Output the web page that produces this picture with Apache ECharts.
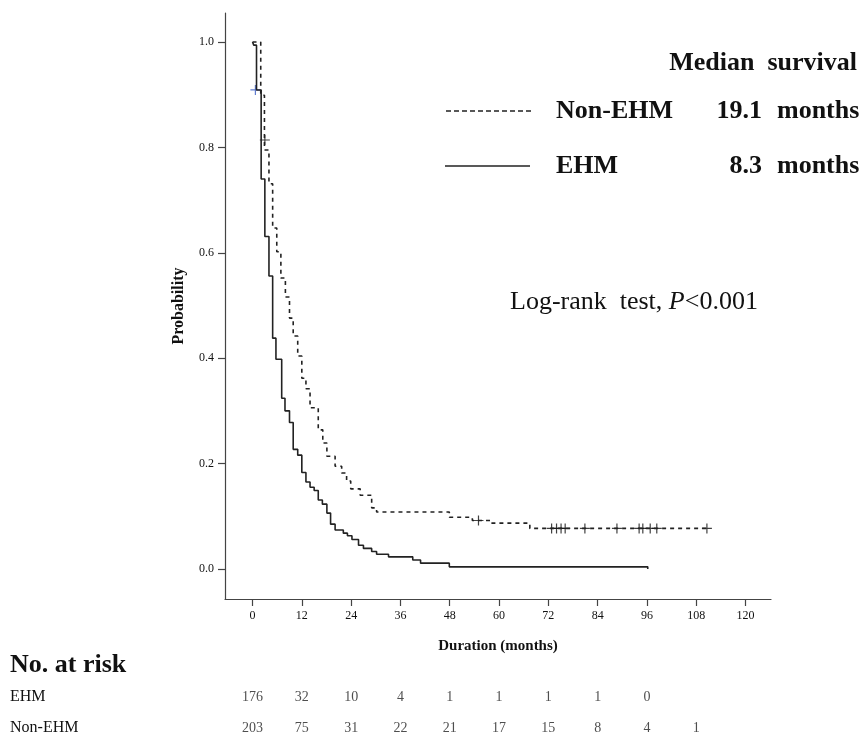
<!DOCTYPE html>
<html>
<head>
<meta charset="utf-8">
<script src="https://cdn.jsdelivr.net/npm/echarts@6/dist/echarts.min.js"></script>
<style>
html, body { margin: 0; padding: 0; background: #fff; }
#main { width: 868px; height: 747px; }
</style>
</head>
<body>
<div id="main"></div>
<script>
// Kaplan-Meier steps: [month, survival from that month on]
var ehmSteps = [
  [0, 1.0], [0.3, 0.994], [0.97, 0.909], [2.1, 0.740], [3.0, 0.631], [4.0, 0.556],
  [4.9, 0.438], [5.7, 0.398], [7.1, 0.324], [7.9, 0.300], [9.0, 0.278], [9.9, 0.227],
  [11.0, 0.216], [12.0, 0.183], [13.0, 0.165], [14.0, 0.155], [15.0, 0.149], [16.0, 0.131],
  [17.0, 0.123], [18.1, 0.106], [19.0, 0.085], [20.1, 0.074], [22.1, 0.068], [23.1, 0.063],
  [24.2, 0.056], [25.8, 0.045], [27.0, 0.039], [29.0, 0.033], [30.2, 0.028], [33.1, 0.023],
  [39.0, 0.017], [40.9, 0.011], [47.9, 0.004], [96.2, 0.0]
]
var nonEhmSteps = [
  [0, 1.0], [2.0, 0.899], [2.9, 0.795], [4.0, 0.731], [4.9, 0.647], [5.9, 0.602],
  [6.9, 0.552], [8.0, 0.516], [9.0, 0.476], [9.9, 0.442], [11.0, 0.404], [12.0, 0.362],
  [13.0, 0.342], [14.0, 0.306], [16.0, 0.264], [17.1, 0.239], [18.1, 0.214], [20.1, 0.195],
  [21.7, 0.182], [22.9, 0.167], [23.9, 0.152], [26.2, 0.140], [29.0, 0.116], [30.2, 0.108],
  [47.9, 0.098], [53.5, 0.092], [58.0, 0.087], [67.5, 0.077], [110.6, 0.077]
]
// censored observations (+ marks)
var ehmCensor = [[0.7, 0.909]]
var nonEhmCensor = [
  [3.0, 0.814], [55.0, 0.092], [72.8, 0.077], [74.0, 0.077], [75.1, 0.077], [76.1, 0.077],
  [80.9, 0.077], [88.7, 0.077], [94.1, 0.077], [95.0, 0.077], [96.8, 0.077], [98.4, 0.077],
  [110.6, 0.077]
]
var monthTicks = [0, 12, 24, 36, 48, 60, 72, 84, 96, 108, 120]
var probTicks = [0, 0.2, 0.4, 0.6, 0.8, 1.0]
// number at risk table
var riskMonths = [0, 12, 24, 36, 48, 60, 72, 84, 96, 108]
var riskRows = ['Non-EHM', 'EHM']
var ehmAtRisk = [176, 32, 10, 4, 1, 1, 1, 1, 0]
var nonEhmAtRisk = [203, 75, 31, 22, 21, 17, 15, 8, 4, 1]
// legend
var groupNames = ['Non-EHM', 'EHM']
var medianMonths = ['19.1', '8.3']

var serif = '"Liberation Serif", "Times New Roman", serif'
var plusPath = 'path://M-1.2,-10H1.2V-1.2H10V1.2H1.2V10H-1.2V1.2H-10V-1.2H-1.2Z'

function riskData(row, counts) {
  return counts.map(function(n, i) { return [riskMonths[i], row, n] })
}

var chart = echarts.init(document.getElementById('main'))

var option = {
  animation: false,
  backgroundColor: '#fff',
  grid: [
    { left: 225, top: 13, width: 546, height: 586 },
    { left: 225, top: 682, width: 546, height: 62 }
  ],
  xAxis: [
    {
      type: 'value',
      min: -6.7,
      max: 126.2,
      name: 'Duration (months)',
      nameLocation: 'middle',
      nameGap: 40,
      nameTextStyle: { fontFamily: serif, fontWeight: 'bold', fontSize: 15, color: '#111' },
      axisLine: { show: true, onZero: false, lineStyle: { color: '#444', width: 1.2 } },
      axisTick: { show: true, length: 7, customValues: monthTicks, lineStyle: { color: '#444', width: 1.2 } },
      axisLabel: { customValues: monthTicks, margin: 11, fontFamily: serif, fontSize: 12, color: '#111' },
      splitLine: { show: false }
    },
    { gridIndex: 1, type: 'value', min: -6.7, max: 126.2, show: false }
  ],
  yAxis: [
    {
      type: 'value',
      min: -0.057,
      max: 1.055,
      name: 'Probability',
      nameLocation: 'middle',
      nameGap: 38,
      nameTextStyle: { fontFamily: serif, fontWeight: 'bold', fontSize: 16, color: '#111' },
      axisLine: { show: true, onZero: false, lineStyle: { color: '#444', width: 1.2 } },
      axisTick: { show: true, length: 7, customValues: probTicks, lineStyle: { color: '#444', width: 1.2 } },
      axisLabel: {
        customValues: probTicks,
        margin: 11,
        fontFamily: serif,
        fontSize: 12,
        color: '#111',
        formatter: function(v) { return v.toFixed(1) }
      },
      splitLine: { show: false }
    },
    { gridIndex: 1, type: 'category', data: riskRows, show: false }
  ],
  series: [
    {
      name: 'Non-EHM',
      type: 'line',
      step: 'end',
      data: nonEhmSteps,
      showSymbol: false,
      lineStyle: { color: '#222', width: 1.6, type: [4, 4] }
    },
    {
      name: 'EHM',
      type: 'line',
      step: 'end',
      data: ehmSteps,
      showSymbol: false,
      lineStyle: { color: '#222', width: 1.6 }
    },
    {
      type: 'scatter',
      data: nonEhmCensor,
      symbol: plusPath,
      symbolSize: 10,
      itemStyle: { color: '#111' }
    },
    {
      type: 'scatter',
      data: ehmCensor,
      symbol: plusPath,
      symbolSize: 10,
      itemStyle: { color: '#3a5cc4' }
    },
    {
      type: 'scatter',
      xAxisIndex: 1,
      yAxisIndex: 1,
      data: riskData('EHM', ehmAtRisk).concat(riskData('Non-EHM', nonEhmAtRisk)),
      symbolSize: 1,
      itemStyle: { color: 'rgba(0,0,0,0)' },
      label: {
        show: true,
        position: 'inside',
        fontFamily: serif,
        fontSize: 14,
        color: '#222',
        formatter: function(p) { return p.value[2] }
      }
    }
  ],
  graphic: [
    // legend block, top right
    { type: 'text', right: 11, top: 50, style: { text: 'Median  survival', font: 'bold 26px ' + serif, fill: '#111' } },
    { type: 'line', shape: { x1: 446, y1: 111, x2: 532, y2: 111 }, style: { stroke: '#222', lineWidth: 1.3, lineDash: [5, 3] } },
    { type: 'line', shape: { x1: 445, y1: 166, x2: 530, y2: 166 }, style: { stroke: '#222', lineWidth: 1.6 } },
    { type: 'text', x: 556, y: 111, style: { text: groupNames[0], font: 'bold 26px ' + serif, fill: '#111', verticalAlign: 'middle' } },
    { type: 'text', x: 556, y: 166, style: { text: groupNames[1], font: 'bold 26px ' + serif, fill: '#111', verticalAlign: 'middle' } },
    { type: 'text', x: 762, y: 111, style: { text: medianMonths[0], font: 'bold 26px ' + serif, fill: '#111', align: 'right', verticalAlign: 'middle' } },
    { type: 'text', x: 762, y: 166, style: { text: medianMonths[1], font: 'bold 26px ' + serif, fill: '#111', align: 'right', verticalAlign: 'middle' } },
    { type: 'text', x: 777, y: 111, style: { text: 'months', font: 'bold 26px ' + serif, fill: '#111', verticalAlign: 'middle' } },
    { type: 'text', x: 777, y: 166, style: { text: 'months', font: 'bold 26px ' + serif, fill: '#111', verticalAlign: 'middle' } },
    // log-rank annotation
    {
      type: 'text',
      x: 510,
      y: 302,
      style: {
        text: '{a|Log-rank  test, }{i|P}{a|<0.001}',
        verticalAlign: 'middle',
        rich: {
          a: { fontFamily: serif, fontSize: 26, fill: '#111', color: '#111' },
          i: { fontFamily: serif, fontSize: 26, fontStyle: 'italic', fill: '#111', color: '#111' }
        }
      }
    },
    // at-risk table captions
    { type: 'text', x: 10, y: 665, style: { text: 'No. at risk', font: 'bold 26px ' + serif, fill: '#111', verticalAlign: 'middle' } },
    { type: 'text', x: 10, y: 697, style: { text: riskRows[1], font: '16px ' + serif, fill: '#111', verticalAlign: 'middle' } },
    { type: 'text', x: 10, y: 728, style: { text: riskRows[0], font: '16px ' + serif, fill: '#111', verticalAlign: 'middle' } }
  ]
}

chart.setOption(option)
</script>
</body>
</html>
